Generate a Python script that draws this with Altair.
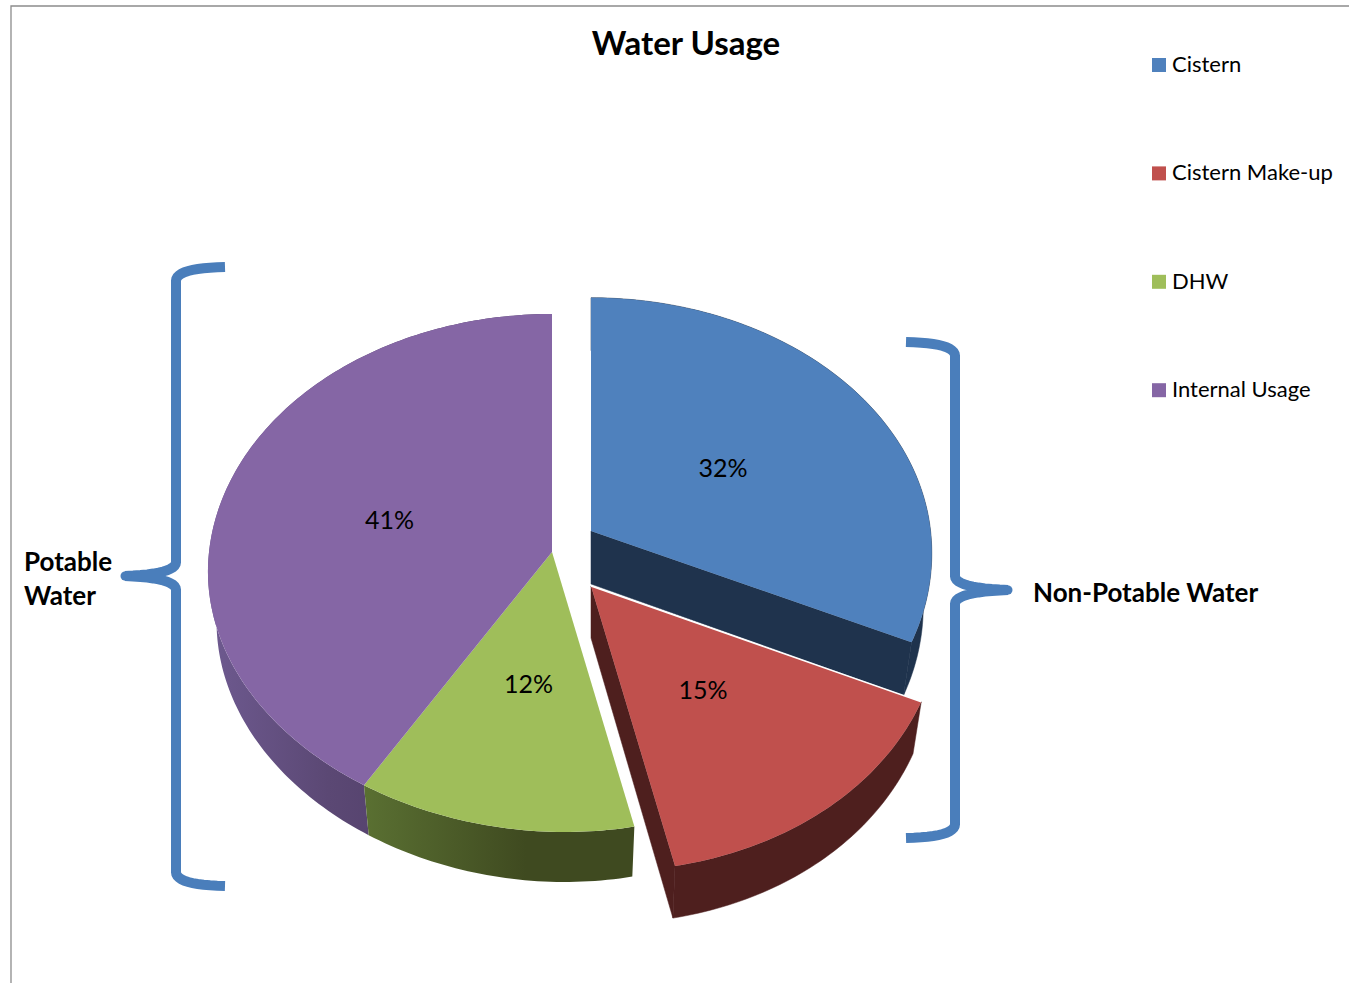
import math
import altair as alt
import pandas as pd

# Pie contents
names = ["Cistern", "Cistern Make-up", "DHW", "Internal Usage"]
shares = [32, 15, 12, 41]
top_colors = ["#4F81BD", "#C0504D", "#9FBE5A", "#8566A5"]
side_colors = ["#1F334D", "#4E1F1E", "#3F4A20", "#4A3860"]

# Camera and placement of each wedge's tip on the page
apex_x = [591, 591, 552, 552]
apex_y = [531, 586, 552, 552]
depth = [53, 52, 50, 50]
stretch_x = [0.99, 1.02, 1.0, 1.0]
stretch_y = [0.98, 1.02, 1.0, 1.0]
RADIUS = 343
TILT = 257.3
PERSPECTIVE = 0.081
SKEW = 13
SHRINK = 0.975
FONT = "Lato"
BLUE = "#4A7EBB"


def project(i, deg):
    """Screen position of the rim point at a clockwise angle from twelve o'clock."""
    a = math.radians(deg)
    cx, cy = math.sin(a), -math.cos(a)
    f = 1 / (1 - PERSPECTIVE * cy)
    x = apex_x[i] + stretch_x[i] * (RADIUS * cx * f + SKEW * max(cy, 0) ** 2)
    y = apex_y[i] + stretch_y[i] * TILT * cy * f
    return [x, y]


def lowered(i, p):
    return [apex_x[i] + (p[0] - apex_x[i]) * SHRINK, p[1] + depth[i]]


def arc(i, a0, a1):
    n = max(2, int(abs(a1 - a0)))
    return [project(i, a0 + (a1 - a0) * k / n) for k in range(n + 1)]


def feature(geom_type, coords, **props):
    return {"type": "Feature", "properties": props,
            "geometry": {"type": geom_type, "coordinates": coords}}


def polygon(points, **props):
    return feature("Polygon", [points + [points[0]]], **props)


def brace(x, tip_x, end_x, top, mid, bottom):
    """A curly bracket: two end hooks, a long spine and a pointed nub."""
    pts = []

    def curve(p0, c, p1):
        for k in range(13):
            t = k / 12
            pts.append([(1 - t) ** 2 * p0[0] + 2 * t * (1 - t) * c[0] + t ** 2 * p1[0],
                        (1 - t) ** 2 * p0[1] + 2 * t * (1 - t) * c[1] + t ** 2 * p1[1]])

    curve([end_x, top], [x, top + 1], [x, top + 14])
    curve([x, mid - 14], [x, mid - 2], [tip_x, mid])
    curve([tip_x, mid], [x, mid + 2], [x, mid + 14])
    curve([x, bottom - 14], [x, bottom - 1], [end_x, bottom])
    return feature("LineString", pts)


bounds = [0]
for s in shares:
    bounds.append(bounds[-1] + s * 3.6)

tops, rims, cuts, labels = [], [], [], []
label_nudge = [(0, 0), (-2, -1), (4, 1), (-8, 3)]
for i, name in enumerate(names):
    a0, a1 = bounds[i], bounds[i + 1]
    rim = arc(i, a0, a1)
    tip = [apex_x[i], apex_y[i]]
    tops.append(polygon([tip] + rim, name=name))
    rims.append(polygon(rim + [lowered(i, p) for p in reversed(rim)], name=name))
    cuts.append(polygon([tip, rim[-1], lowered(i, rim[-1]), lowered(i, tip)], name=name))
    mid = project(i, (a0 + a1) / 2)
    labels.append({
        "lon": tip[0] + (mid[0] - tip[0]) * 0.48 + label_nudge[i][0],
        "lat": tip[1] + (mid[1] - tip[1]) * 0.48 + label_nudge[i][1],
        "text": f"{shares[i]}%",
    })

identity = dict(type="identity", scale=1, translate=[0, 0])


def shape(features, **mark):
    return alt.Chart(alt.Data(values=features)).mark_geoshape(**mark).project(**identity)


def text_layer(rows, **mark):
    return (
        alt.Chart(pd.DataFrame(rows))
        .mark_text(font=FONT, color="black", **mark)
        .encode(longitude="lon:Q", latitude="lat:Q", text="text:N")
        .project(**identity)
    )


purple_side = alt.Gradient(
    gradient="linear", x1=0, x2=1, y1=0, y2=0,
    stops=[alt.GradientStop(offset=0, color="#6E5A90"),
           alt.GradientStop(offset=0.35, color="#5B4874"),
           alt.GradientStop(offset=1, color="#46345C")],
)
green_side = alt.Gradient(
    gradient="linear", x1=0, x2=1, y1=0, y2=0,
    stops=[alt.GradientStop(offset=0, color="#5A7032"),
           alt.GradientStop(offset=0.6, color="#3F4A20"),
           alt.GradientStop(offset=1, color="#3F4A20")],
)

frame = shape([feature("LineString", [[1349, 6], [11, 6], [11, 983]])],
              filled=False, stroke="#8C8C8C", strokeWidth=1.3)

sides = [
    shape([rims[0], cuts[0]], fill=side_colors[0], stroke=side_colors[0], strokeWidth=0.5),
    shape([rims[1], cuts[1]], fill=side_colors[1], stroke=side_colors[1], strokeWidth=0.5),
    shape([rims[3]], fill=purple_side),
    shape([rims[2]], fill=green_side),
]

top_faces = shape(tops).encode(
    color=alt.Color(
        "properties.name:N",
        scale=alt.Scale(domain=names, range=top_colors),
        legend=alt.Legend(
            title=None, orient="none", legendX=1148, legendY=54,
            symbolType="square", symbolSize=196, symbolStrokeWidth=0,
            labelFont=FONT, labelFontSize=22, labelColor="black",
            rowPadding=86.4, labelOffset=2, labelLimit=300,
        ),
    )
)

red_edge = shape([feature("LineString", [[apex_x[1], apex_y[1]], project(1, bounds[1])])],
                 filled=False, stroke="white", strokeWidth=1.5)

braces = shape(
    [brace(176, 125, 225, 267, 576, 886), brace(955, 1008, 906, 342, 590, 838)],
    filled=False, stroke=BLUE, strokeWidth=10, strokeCap="butt",
)
# The nubs finish in a rounded end
nub_ends = shape(
    [feature("LineString", [[127, 576], [125, 576]]),
     feature("LineString", [[1006, 590], [1008, 590]])],
    filled=False, stroke=BLUE, strokeWidth=9, strokeCap="round",
)

title = text_layer([{"lon": 686, "lat": 45, "text": "Water Usage"}],
                    fontSize=33, fontWeight="bold", align="center", baseline="middle")
pct = text_layer(labels, fontSize=25, align="center", baseline="middle")
notes = text_layer(
    [{"lon": 24, "lat": 563, "text": "Potable"},
     {"lon": 24, "lat": 597, "text": "Water"},
     {"lon": 1033, "lat": 594, "text": "Non-Potable Water"}],
    fontSize=26, fontWeight="bold", align="left", baseline="middle",
)

chart = (
    alt.layer(frame, *sides, top_faces, red_edge, braces, nub_ends, title, pct, notes)
    .properties(width=1349, height=983, padding=0, autosize="none", background="white")
    .configure_view(stroke=None)
)

chart.save("out.html", embed_options={"renderer": "svg", "actions": False})
